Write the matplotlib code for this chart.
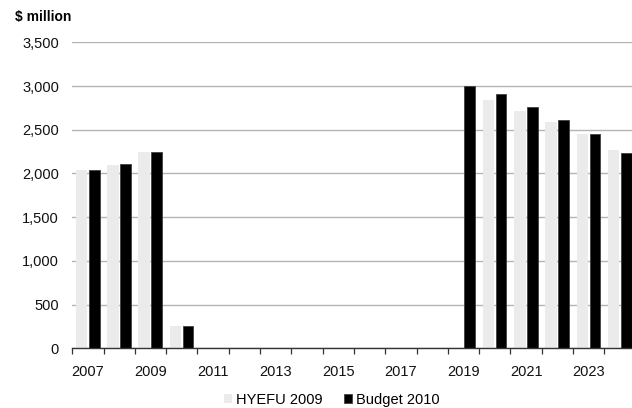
import numpy as np
import matplotlib
matplotlib.use("Agg")
import matplotlib.pyplot as plt
from matplotlib.ticker import FuncFormatter, FixedLocator

plt.rcParams['font.family'] = ['Liberation Sans', 'DejaVu Sans']

# operating balance track, $ million
years = list(range(2007, 2025))
hyefu_2009 = [2045, 2100, 2240, 255, 0, 0, 0, 0, 0, 0, 0, 0, 0, 2840, 2715, 2585, 2450, 2265]
budget_2010 = [2045, 2105, 2240, 255, 0, 0, 0, 0, 0, 0, 0, 0, 3005, 2905, 2765, 2615, 2450, 2235]

fig = plt.figure(figsize=(6.32, 4.08), dpi=100)
# right edge runs a little past the canvas so the last bar gets cut
ax = fig.add_axes([0.1144, 0.1463, 0.8913, 0.75])

x = np.arange(len(years))
w = 0.37
ax.bar(x - 0.015 - w / 2, hyefu_2009, width=w, color='#ebebeb', label='HYEFU 2009', zorder=2)
ax.bar(x + 0.015 + w / 2, budget_2010, width=w - 0.03, color='black',
       edgecolor='#404040', linewidth=0.6, label='Budget 2010', zorder=2)

ax.set_xlim(-0.5, len(years) - 0.5)
ax.set_ylim(0, 3500)
ax.set_yticks(range(0, 3501, 500))
ax.yaxis.set_major_formatter(FuncFormatter(lambda v, p: f'{int(v):,}'))
ax.grid(axis='y', color='#b4b4b4', linewidth=1.0, zorder=0)
ax.tick_params(axis='y', length=0, pad=9.5, labelsize=10.5, colors='#111111')

# year labels every other year, tick marks between categories
ax.xaxis.set_major_locator(FixedLocator(x[::2]))
ax.set_xticklabels([str(y) for y in years[::2]])
ax.xaxis.set_minor_locator(FixedLocator(np.arange(-0.5, len(years), 1)))
ax.tick_params(axis='x', which='major', length=0, pad=12, labelsize=10.5, colors='#111111')
ax.tick_params(axis='x', which='minor', length=4, width=0.9, color='#333333')

for side in ['left', 'right', 'top']:
    ax.spines[side].set_visible(False)
ax.spines['bottom'].set_color('#333333')
ax.spines['bottom'].set_linewidth(1.0)

fig.text(0.024, 0.958, '$ million', fontsize=10, fontweight='bold', va='center')

fig.legend(loc='center', bbox_to_anchor=(0.525, 0.02), ncol=2, frameon=False,
           fontsize=10.5, handlelength=0.55, handleheight=0.55, handletextpad=0.3,
           columnspacing=1.4, borderaxespad=0)

fig.savefig('out.png', dpi=100)
